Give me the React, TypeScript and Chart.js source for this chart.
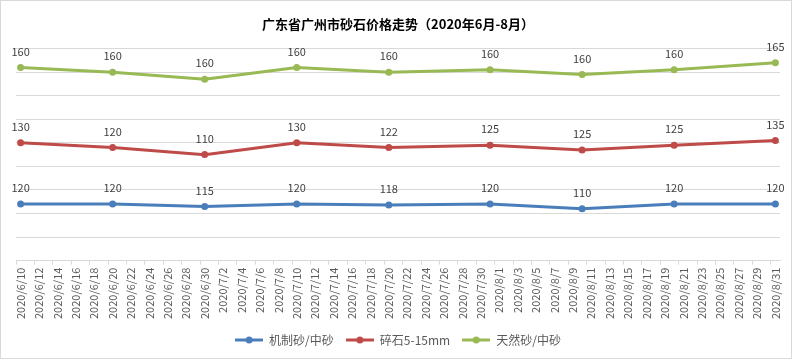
import React, { useEffect, useRef } from 'react';
import { Chart, registerables } from 'chart.js';

Chart.register(...registerables);

// ---- data ----
const chartTitle = '广东省广州市砂石价格走势（2020年6月-8月）';
const pointDates = ['2020/6/10', '2020/6/20', '2020/6/30', '2020/7/10', '2020/7/20', '2020/7/31', '2020/8/10', '2020/8/20', '2020/8/31'];
const seriesNames = ['机制砂/中砂', '碎石5-15mm', '天然砂/中砂'];
const machineSand = [120, 120, 115, 120, 118, 120, 110, 120, 120];
const gravel = [130, 120, 110, 130, 122, 125, 125, 125, 135];
const naturalSand = [160, 160, 160, 160, 160, 160, 160, 160, 165];
const tickLabels = [
  '2020/6/10', '2020/6/12', '2020/6/14', '2020/6/16', '2020/6/18', '2020/6/20', '2020/6/22', '2020/6/24', '2020/6/26', '2020/6/28', '2020/6/30',
  '2020/7/2', '2020/7/4', '2020/7/6', '2020/7/8', '2020/7/10', '2020/7/12', '2020/7/14', '2020/7/16', '2020/7/18', '2020/7/20', '2020/7/22', '2020/7/24', '2020/7/26', '2020/7/28', '2020/7/30',
  '2020/8/1', '2020/8/3', '2020/8/5', '2020/8/7', '2020/8/9', '2020/8/11', '2020/8/13', '2020/8/15', '2020/8/17', '2020/8/19', '2020/8/21', '2020/8/23', '2020/8/25', '2020/8/27', '2020/8/29', '2020/8/31',
];
const seriesColors = ['#4A7EBB', '#BE4B48', '#98B954'];

// daily category axis between first and last tick label (Excel date axis)
function dayRange(start: string, end: string): string[] {
  const p = (s: string) => {
    const [y, m, d] = s.split('/').map(Number);
    return Date.UTC(y, m - 1, d);
  };
  const out: string[] = [];
  for (let t = p(start); t <= p(end); t += 86400000) {
    const dt = new Date(t);
    out.push(`${dt.getUTCFullYear()}/${dt.getUTCMonth() + 1}/${dt.getUTCDate()}`);
  }
  return out;
}
const categories = dayRange(tickLabels[0], tickLabels[tickLabels.length - 1]);
const tickSet = new Set(tickLabels);

const FONT = '"Noto Sans CJK SC", "Noto Sans", sans-serif';

function makeLegendIcon(color: string): HTMLCanvasElement {
  const c = document.createElement('canvas');
  c.width = 28;
  c.height = 10;
  const g = c.getContext('2d')!;
  g.strokeStyle = color;
  g.lineWidth = 3;
  g.beginPath();
  g.moveTo(0, 5);
  g.lineTo(28, 5);
  g.stroke();
  g.fillStyle = color;
  g.beginPath();
  g.arc(14, 5, 3.5, 0, Math.PI * 2);
  g.fill();
  return c;
}

const dataLabelPlugin = {
  id: 'dataLabels',
  afterDatasetsDraw(chart: any) {
    const ctx = chart.ctx;
    ctx.save();
    ctx.font = `11px ${FONT}`;
    ctx.fillStyle = '#404040';
    ctx.textAlign = 'center';
    ctx.textBaseline = 'middle';
    chart.data.datasets.forEach((ds: any, di: number) => {
      const meta = chart.getDatasetMeta(di);
      meta.data.forEach((el: any, i: number) => {
        ctx.fillText(String(ds.data[i].y), el.x, el.y - 16);
      });
    });
    ctx.restore();
  },
};

const framePlugin = {
  id: 'frame',
  beforeDraw(chart: any) {
    const ctx = chart.ctx;
    ctx.save();
    ctx.fillStyle = '#ffffff';
    ctx.fillRect(0, 0, chart.width, chart.height);
    ctx.strokeStyle = '#d9d9d9';
    ctx.lineWidth = 1;
    ctx.strokeRect(0.5, 0.5, 791, 358);
    ctx.restore();
  },
};

export default function App() {
  const ref = useRef<HTMLCanvasElement | null>(null);

  useEffect(() => {
    document.body.style.margin = '0';
    const seriesValues = [machineSand, gravel, naturalSand];
    const icons = seriesColors.map(makeLegendIcon);
    const chart = new Chart(ref.current!, {
      type: 'line',
      data: {
        labels: categories,
        datasets: seriesValues.map((vals, i) => ({
          label: seriesNames[i],
          data: vals.map((v, j) => ({ x: pointDates[j], y: v })),
          borderColor: seriesColors[i],
          backgroundColor: seriesColors[i],
          borderWidth: 3,
          pointRadius: 3.5,
          pointHoverRadius: 3.5,
          pointBackgroundColor: seriesColors[i],
          pointBorderColor: seriesColors[i],
          pointBorderWidth: 0,
          fill: false,
          tension: 0,
        })),
      },
      options: {
        responsive: false,
        animation: false,
        events: [],
        layout: { padding: { top: 16, left: 16, right: 14, bottom: 5 } },
        plugins: {
          title: {
            display: true,
            text: chartTitle,
            color: '#000000',
            font: { family: FONT, size: 13, weight: 'bold' },
            padding: { top: 0, bottom: 17 },
          },
          legend: {
            display: true,
            position: 'bottom',
            labels: {
              usePointStyle: true,
              pointStyleWidth: 28,
              padding: 12,
              color: '#595959',
              font: { family: FONT, size: 12 },
              generateLabels: (ch: any) =>
                ch.data.datasets.map((ds: any, i: number) => ({
                  text: ds.label,
                  fillStyle: ds.borderColor,
                  strokeStyle: ds.borderColor,
                  lineWidth: 0,
                  pointStyle: icons[i],
                  datasetIndex: i,
                  hidden: false,
                  fontColor: '#595959',
                })),
            },
          },
          tooltip: { enabled: false },
        },
        scales: {
          x: {
            type: 'category',
            offset: true,
            grid: {
              display: true,
              drawOnChartArea: false,
              drawTicks: true,
              tickLength: 4,
              offset: true,
              color: '#d9d9d9',
              tickColor: (c: any) => (c.index % 2 === 0 ? '#d9d9d9' : 'rgba(0,0,0,0)'),
            },
            border: { display: true, color: '#d9d9d9', width: 1 },
            ticks: {
              autoSkip: false,
              maxRotation: 90,
              minRotation: 90,
              padding: 3,
              color: '#595959',
              font: { family: FONT, size: 11 },
              callback: function (this: any, value: any) {
                const l = this.getLabelForValue(value);
                return tickSet.has(l) ? l : '';
              },
            },
          },
          y: {
            stacked: true,
            min: 0,
            max: 450,
            ticks: { display: false, stepSize: 50 },
            grid: { color: '#d9d9d9', drawTicks: false },
            border: { display: false },
          },
        },
      },
      plugins: [framePlugin, dataLabelPlugin],
    } as any);
    return () => chart.destroy();
  }, []);

  return (
    <div style={{ width: 794, height: 361 }}>
      <canvas ref={ref} width={794} height={361} style={{ display: 'block' }} />
    </div>
  );
}
